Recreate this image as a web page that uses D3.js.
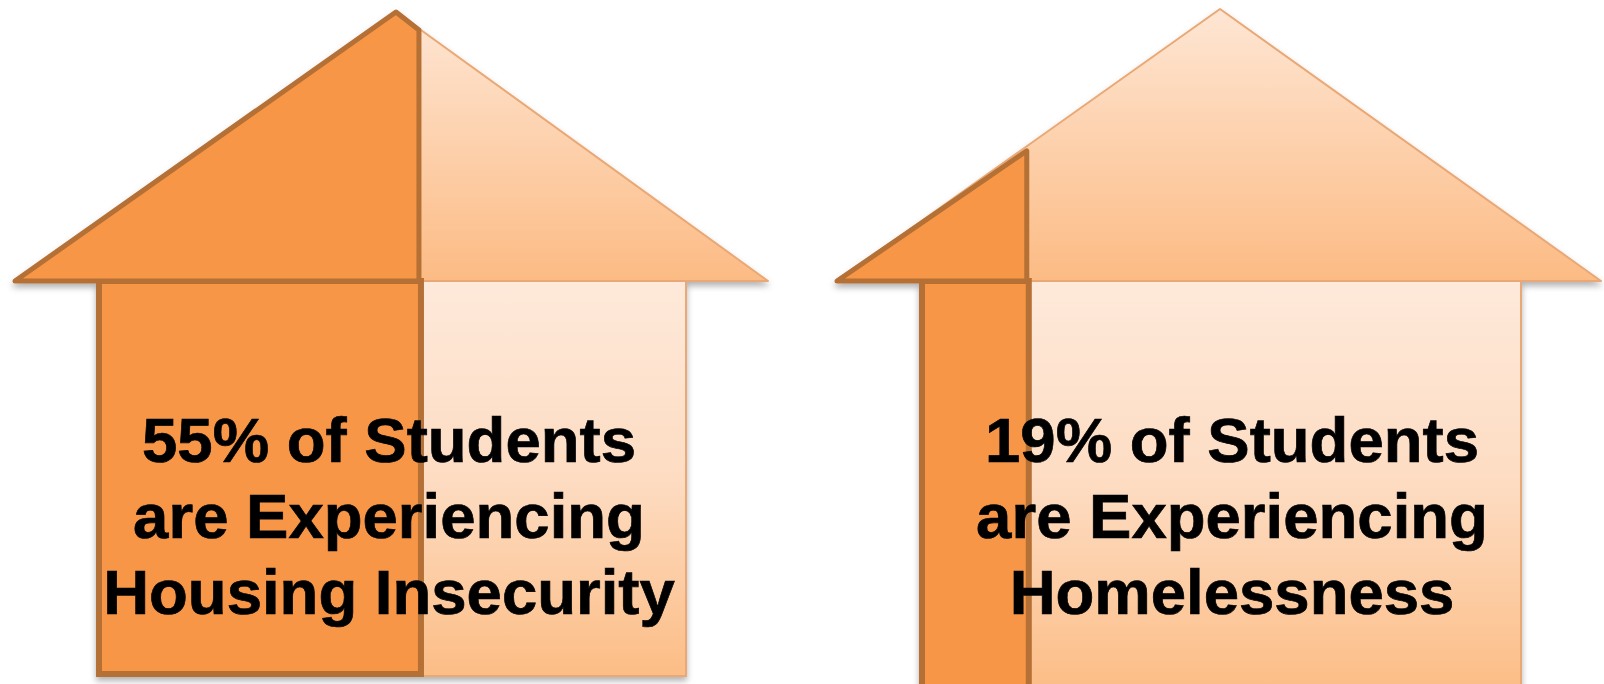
<!DOCTYPE html>
<html><head><meta charset="utf-8">
<style>html,body{margin:0;padding:0;background:#fff}svg{display:block}text{font-family:"Liberation Sans",Arial,sans-serif;font-weight:700;fill:#000;stroke:#000;stroke-width:0.7}</style>
<script src="https://cdn.jsdelivr.net/npm/d3@7"></script></head>
<body><svg id="c" width="1604" height="684"></svg>
<script>
const houseNames = ["insecurity","homeless"];
const readShares = [55, 18.1];
const line1 = ["55% of Students","19% of Students"];
const line2 = ["are Experiencing","are Experiencing"];
const line3 = ["Housing Insecurity","Homelessness"];

const frames = [
 {tipL:15,apex:396,apexY:12,tipR:768,baseY:281,bodyL:97,bodyR:686,bodyB:676,textX:389},
 {tipL:837,apex:1220,apexY:9,tipR:1601,baseY:281,bodyL:920,bodyR:1521,bodyB:690,textX:1232}
];
const dark="#f79646", edge="#b56f34";
const svg=d3.select("#c");
const defs=svg.append("defs");
const grad=(id,stops)=>{const g=defs.append("linearGradient").attr("id",id).attr("x1",0).attr("y1",0).attr("x2",0).attr("y2",1);
 stops.forEach(([o,c])=>g.append("stop").attr("offset",o).attr("stop-color",c));};
grad("roofG",[[0,"#fee6d4"],[1,"#fcbb84"]]);
grad("bodyG",[[0,"#fee9da"],[0.5,"#fddcc2"],[1,"#fcbd86"]]);
const f=defs.append("filter").attr("id","sh").attr("x","-5%").attr("y","-5%").attr("width","110%").attr("height","112%");
f.append("feDropShadow").attr("dx",0).attr("dy",4).attr("stdDeviation",3).attr("flood-color","#000").attr("flood-opacity",0.3);
const soft=defs.append("filter").attr("id","soft");
soft.append("feGaussianBlur").attr("stdDeviation",0.7);
const line=d3.line();

houseNames.forEach((name,i)=>{
 const h=frames[i];
 const share=d3.scaleLinear().domain([0,100]).range([h.bodyL,h.bodyR]);
 const sx=share(readShares[i]);
 const slopeL=d3.scaleLinear().domain([h.tipL,h.apex]).range([h.baseY,h.apexY]);
 const slopeR=d3.scaleLinear().domain([h.apex,h.tipR]).range([h.apexY,h.baseY]);
 const g=svg.append("g").attr("class",name).attr("filter","url(#soft)");
 const lg=g.append("g").attr("filter","url(#sh)");
 lg.append("rect").attr("x",h.bodyL).attr("y",h.baseY).attr("width",h.bodyR-h.bodyL).attr("height",h.bodyB-h.baseY)
  .attr("fill","url(#bodyG)").attr("stroke","#e9a874").attr("stroke-width",2);
 lg.append("path").attr("d",line([[h.tipL,h.baseY],[h.apex,h.apexY],[h.tipR,h.baseY]])+"Z")
  .attr("fill","url(#roofG)").attr("stroke","#e9a874").attr("stroke-width",2).attr("stroke-linejoin","round");
 lg.append("rect").attr("x",h.bodyL+2).attr("y",h.baseY).attr("width",sx-h.bodyL-2).attr("height",h.bodyB-h.baseY-2)
  .attr("fill",dark).attr("stroke",edge).attr("stroke-width",6);
 const pts = sx>h.apex
  ? [[h.tipL,h.baseY],[h.apex,h.apexY],[sx,slopeR(sx)],[sx,h.baseY]]
  : [[h.tipL,h.baseY],[sx,slopeL(sx)+6],[sx,h.baseY]];
 const roofPts = pts.map(([x,y])=>[x-(x===sx?2:0),y]);
 lg.append("path").attr("d",line(roofPts)+"Z").attr("fill",dark).attr("stroke",edge).attr("stroke-width",5).attr("stroke-linejoin","round");
 [line1[i],line2[i],line3[i]].forEach((t,k)=>{
  svg.append("text").attr("x",h.textX).attr("y",d3.scaleLinear().domain([0,2]).range([462,614])(k))
   .attr("text-anchor","middle").attr("font-size",63.5).attr("filter","url(#soft)").text(t);
 });
});
</script></body></html>
